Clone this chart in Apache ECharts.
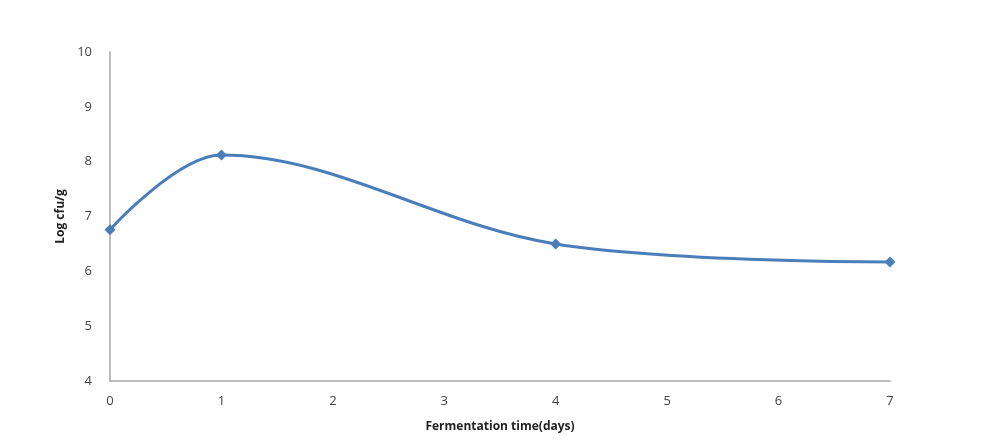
<!DOCTYPE html>
<html><head><meta charset="utf-8">
<script src="https://cdn.jsdelivr.net/npm/echarts@6/dist/echarts.min.js"></script>
<style>html,body{margin:0;padding:0;background:#fff}#c{width:1001px;height:447px}</style>
</head><body><div id="c"></div>
<script>
const days = [0, 1, 4, 7];
const logCfu = [6.76, 8.12, 6.5, 6.17];
const yTicks = [4, 5, 6, 7, 8, 9, 10];
const xTicks = [0, 1, 2, 3, 4, 5, 6, 7];

const chart = echarts.init(document.getElementById('c'));
chart.setOption({
  animation: false,
  grid: {left: 110, right: 111, top: 52, bottom: 66},
  xAxis: {
    type: 'value', min: xTicks[0], max: xTicks[xTicks.length-1], interval: 1,
    name: 'Fermentation time(days)', nameLocation: 'middle', nameGap: 40,
    nameTextStyle: {fontFamily: 'Open Sans', fontWeight: 'bold', fontSize: 12, color: '#222'},
    axisLine: {lineStyle: {color: '#a6a6a6', width: 1.5}},
    axisTick: {show: false},
    splitLine: {show: false},
    axisLabel: {color: '#444', fontFamily: 'Open Sans', fontSize: 13, margin: 14}
  },
  yAxis: {
    type: 'value', min: yTicks[0], max: yTicks[yTicks.length-1], interval: 1,
    name: 'Log cfu/g', nameLocation: 'middle', nameGap: 40, nameRotate: 90,
    nameTextStyle: {fontFamily: 'Open Sans', fontWeight: 'bold', fontSize: 12, color: '#222'},
    axisLine: {show: true, lineStyle: {color: '#a6a6a6', width: 1.5}},
    axisTick: {show: false},
    splitLine: {show: false},
    axisLabel: {color: '#444', fontFamily: 'Open Sans', fontSize: 13, margin: 18}
  },
  series: [{
    type: 'line', smooth: 0.35,
    data: days.map((d, i) => [d, logCfu[i]]),
    symbol: 'diamond', symbolSize: 11,
    lineStyle: {color: '#4a7ebb', width: 3},
    itemStyle: {color: '#4a7ebb'}
  }]
});
</script></body></html>
